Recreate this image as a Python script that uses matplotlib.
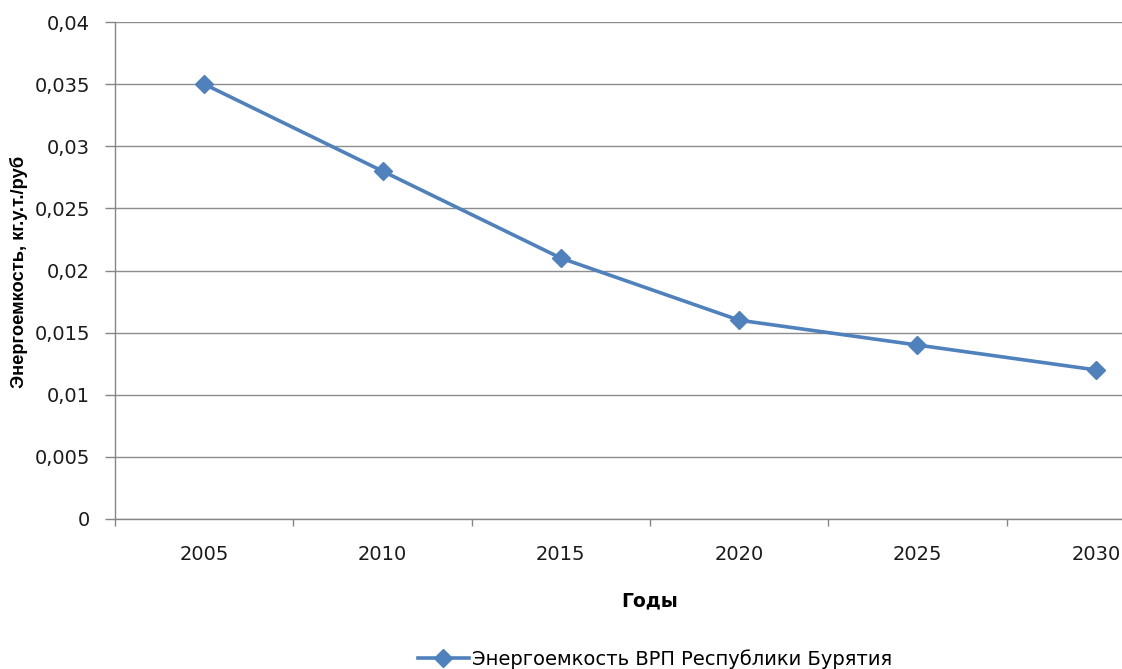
import matplotlib
matplotlib.use("Agg")
import matplotlib.pyplot as plt
from matplotlib.ticker import FixedLocator, NullFormatter

years = ["2005", "2010", "2015", "2020", "2025", "2030"]
values = [0.035, 0.028, 0.021, 0.016, 0.014, 0.012]
yticks = [0, 0.005, 0.01, 0.015, 0.02, 0.025, 0.03, 0.035, 0.04]
ytick_labels = ["0", "0,005", "0,01", "0,015", "0,02", "0,025", "0,03", "0,035", "0,04"]
series_name = "Энергоемкость ВРП Республики Бурятия"

W, H = 1122, 669
fig = plt.figure(figsize=(W / 100, H / 100), dpi=100)
ax = fig.add_axes([115 / W, 1 - 519 / H, 1070 / W, 497 / H])

x = list(range(len(years)))
color = "#4F81BD"
ax.plot(x, values, color=color, linewidth=2.6, marker="D", markersize=9.5,
        label=series_name, zorder=3, clip_on=False)

ax.set_xlim(-0.5, len(years) - 0.5)
ax.set_ylim(0, 0.04)

ax.set_yticks(yticks)
ax.set_yticklabels(ytick_labels)
ax.yaxis.grid(True, color="#8C8C8C", linewidth=1.0)
ax.set_axisbelow(True)

ax.xaxis.set_major_locator(FixedLocator([i - 0.5 for i in range(len(years) + 1)]))
ax.xaxis.set_major_formatter(NullFormatter())
ax.xaxis.set_minor_locator(FixedLocator(x))
ax.set_xticklabels(years, minor=True)

ax.tick_params(axis="y", direction="out", length=7, width=1, color="#868686",
               labelsize=14, pad=11, labelcolor="#1a1a1a")
ax.tick_params(axis="x", which="major", direction="out", length=5, width=1, color="#868686")
ax.tick_params(axis="x", which="minor", length=0, labelsize=14, pad=19, labelcolor="#1a1a1a")

for s in ["top", "right"]:
    ax.spines[s].set_visible(False)
for s in ["left", "bottom"]:
    ax.spines[s].set_color("#868686")
    ax.spines[s].set_linewidth(1)

ax.set_xlabel("Годы", fontsize=13.5, fontweight="bold")
ax.xaxis.set_label_coords((650 - 115) / 1070, -(591 - 519) / 497)
ax.set_ylabel("Энергоемкость, кг.у.т./руб", fontsize=13.2, fontweight="bold",
              family=["Liberation Sans"])
ax.yaxis.set_label_coords(-(115 - 19) / 1070, (519 - 272) / 497)
ax.yaxis.label.set_va("center")

fig.legend(loc="center", bbox_to_anchor=(655 / W, 1 - 659 / H), frameon=False,
           fontsize=14, handlelength=2.6, handletextpad=0.15, borderpad=0)

fig.savefig("out.png", dpi=100)
